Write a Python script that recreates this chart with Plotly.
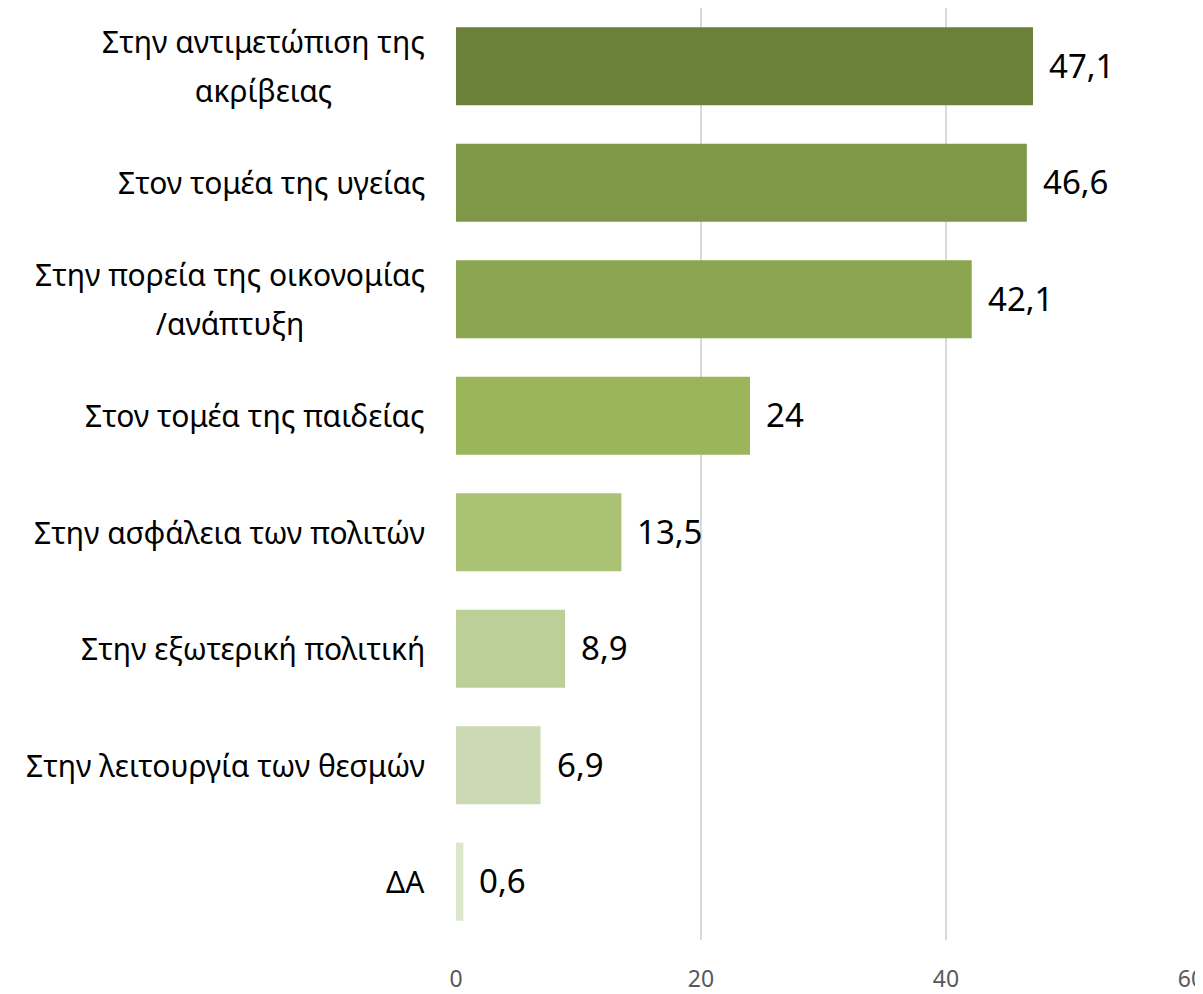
import plotly.graph_objects as go

categories = [
    "Στην αντιμετώπιση της<br>ακρίβειας",
    "Στον τομέα της υγείας",
    "Στην πορεία της οικονομίας<br>/ανάπτυξη",
    "Στον τομέα της παιδείας",
    "Στην ασφάλεια των πολιτών",
    "Στην εξωτερική πολιτική",
    "Στην λειτουργία των θεσμών",
    "ΔΑ",
]
values = [47.1, 46.6, 42.1, 24, 13.5, 8.9, 6.9, 0.6]
colors = ["#6B813A", "#7F9848", "#8BA650", "#9BB55A", "#A9C273", "#BBCF97", "#CBDAB3", "#DCE6CB"]
tick_vals = [0, 20, 40, 60]

FONT = "Noto Sans"
LABEL_SIZE = 30

fig = go.Figure()
fig.add_trace(go.Bar(
    y=categories, x=values, orientation="h",
    marker=dict(color=colors, line=dict(width=0)),
    hoverinfo="skip",
))

annotations = []
for cat, v in zip(categories, values):
    lines = cat.split("<br>")
    text = "<br>".join(f"<span style='font-size:{LABEL_SIZE}px'>{ln}</span>" for ln in lines)
    annotations.append(dict(
        x=0, xref="paper", y=cat, yref="y", text=text,
        xanchor="right", yanchor="middle", xshift=-29, yshift=0,
        showarrow=False, align="center",
        font=dict(family=FONT, size=38, color="#000000"),
    ))
    annotations.append(dict(
        x=v, xref="x", y=cat, yref="y", text=f"{v:g}".replace(".", ","),
        xanchor="left", yanchor="middle", xshift=14, yshift=1,
        showarrow=False,
        font=dict(family=FONT, size=33, color="#000000"),
    ))

fig.update_layout(
    width=1203, height=994,
    margin=dict(l=448, r=20, t=0, b=62),
    paper_bgcolor="white", plot_bgcolor="white",
    bargap=0.33,
    showlegend=False,
    annotations=annotations,
    xaxis=dict(
        range=[0, 60], tickvals=tick_vals, showgrid=True,
        gridcolor="#D9D9D9", gridwidth=1.5, zeroline=False,
        showline=False, ticks="", ticklabelstandoff=23,
        tickfont=dict(family=FONT, size=23, color="#595959"),
    ),
    yaxis=dict(
        categoryorder="array", categoryarray=categories[::-1],
        showticklabels=False, showgrid=False, zeroline=False, showline=False,
    ),
)

fig.write_html("out.html")
